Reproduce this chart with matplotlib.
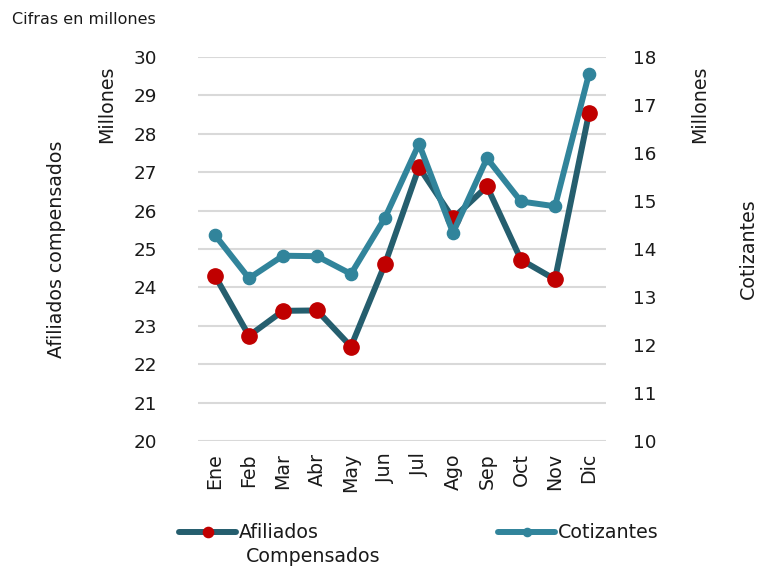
import matplotlib
matplotlib.use("Agg")
import matplotlib.pyplot as plt
from matplotlib.ticker import MultipleLocator

months = ["Ene", "Feb", "Mar", "Abr", "May", "Jun", "Jul", "Ago", "Sep", "Oct", "Nov", "Dic"]
afiliados = [24.30, 22.74, 23.39, 23.40, 22.46, 24.61, 27.13, 25.80, 26.63, 24.72, 24.21, 28.54]
cotizantes = [14.29, 13.39, 13.86, 13.85, 13.48, 14.65, 16.19, 14.34, 15.89, 14.99, 14.89, 17.65]

plt.rcParams['font.family'] = ['DejaVu Sans']
FS = 13.7
TFS = 13.2
TXT = '#1a1a1a'

fig = plt.figure(figsize=(7.57, 5.68), dpi=100)
ax = fig.add_axes([198/757, 1 - 441/568, (606-198)/757, (441-57)/568])
ax2 = ax.twinx()

x = list(range(len(months)))
l1, = ax.plot(x, afiliados, color='#255E6E', lw=4.3, marker='o', ms=11,
              mfc='#C00000', mec='#C00000', solid_capstyle='round', zorder=3)
l2, = ax2.plot(x, cotizantes, color='#31849B', lw=4.3, marker='o', ms=8.8,
               mfc='#31849B', mec='#31849B', solid_capstyle='round', zorder=3)

ax.set_xlim(-0.5, len(months) - 0.5)
ax.set_ylim(20, 30)
ax2.set_ylim(10, 18)
ax.yaxis.set_major_locator(MultipleLocator(1))
ax2.yaxis.set_major_locator(MultipleLocator(1))
ax.set_xticks(x)
ax.set_xticklabels(months, rotation=90, fontsize=FS, color=TXT)
ax.grid(axis='y', color='#d9d9d9', lw=1.5)
ax.set_axisbelow(True)
for a in (ax, ax2):
    for s in a.spines.values():
        s.set_visible(False)
ax.tick_params(axis='y', length=0, pad=29.5, labelsize=TFS, labelcolor=TXT)
ax.tick_params(axis='x', length=0, pad=8.6, labelsize=FS, labelcolor=TXT)
ax2.tick_params(axis='y', length=0, pad=19.4, labelsize=TFS, labelcolor=TXT)

fig.text(12/757, 1 - 19/568, "Cifras en millones", fontsize=11.5, color=TXT,
         ha='left', va='center')
fig.text(57/757, 1 - 249/568, "Afiliados compensados", rotation=90, fontsize=FS,
         color=TXT, ha='center', va='center')
fig.text(107/757, 1 - 104/568, "Millones", rotation=90, fontsize=FS,
         color=TXT, ha='center', va='center')
fig.text(700/757, 1 - 104/568, "Millones", rotation=90, fontsize=FS,
         color=TXT, ha='center', va='center')
fig.text(748/757, 1 - 249/568, "Cotizantes", rotation=90, fontsize=FS,
         color=TXT, ha='center', va='center')

leg = fig.legend([l1, l2], ["Afiliados", "Cotizantes"], ncol=2, loc='center left',
                 bbox_to_anchor=(179/757, 1 - 533/568), frameon=False,
                 fontsize=FS, handlelength=57/19.0, handletextpad=3/19.0,
                 columnspacing=179/19.0, borderpad=0, borderaxespad=0,
                 markerscale=0.67, numpoints=1)
for t in leg.get_texts():
    t.set_color(TXT)
fig.text(246/757, 1 - 557/568, "Compensados", fontsize=FS, color=TXT,
         ha='left', va='center')

fig.savefig("out.png", dpi=100)
